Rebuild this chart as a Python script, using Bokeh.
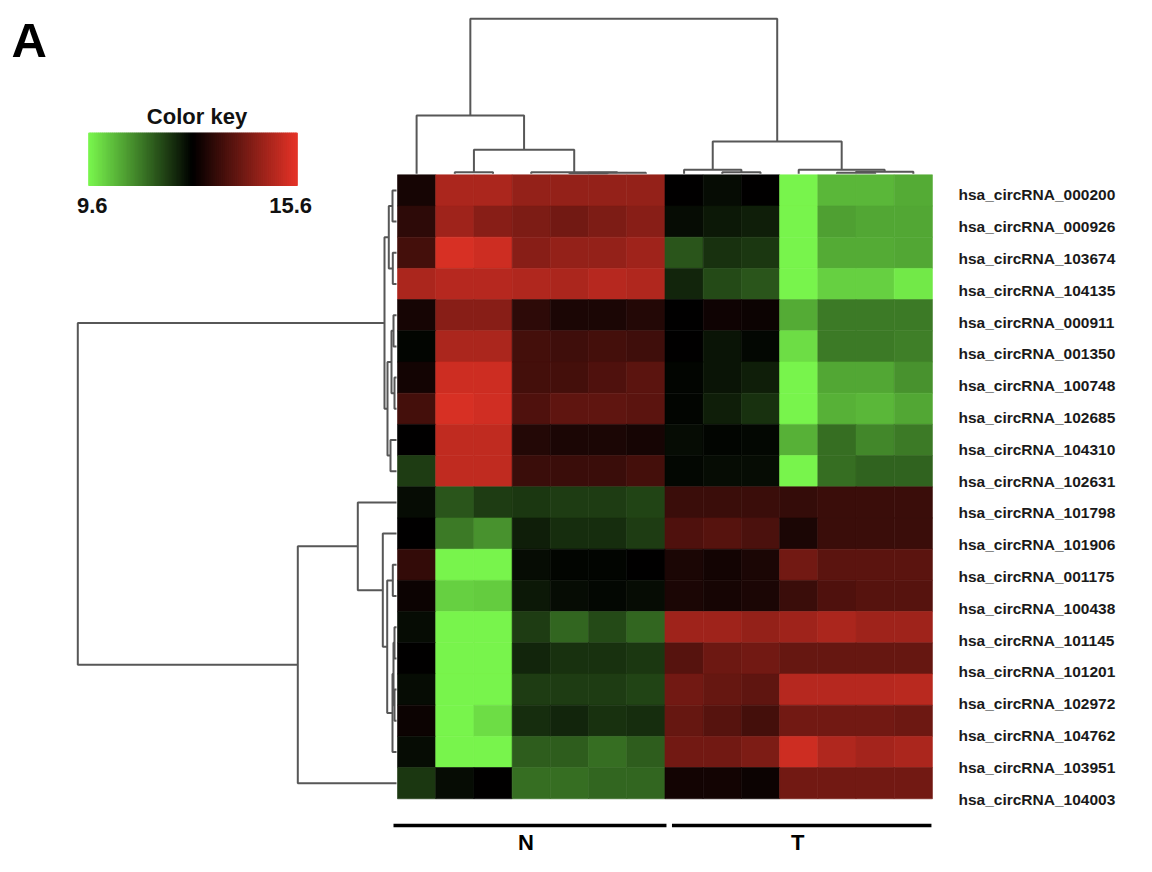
import numpy as np
from bokeh.plotting import figure
from bokeh.models import Range1d, LinearColorMapper, ColumnDataSource
from bokeh.transform import transform
from bokeh.core.properties import value
from bokeh.embed import file_html
from bokeh.resources import INLINE

# ---------------- data ----------------
GENES = [
    "hsa_circRNA_000200", "hsa_circRNA_000926", "hsa_circRNA_103674", "hsa_circRNA_104135",
    "hsa_circRNA_000911", "hsa_circRNA_001350", "hsa_circRNA_100748", "hsa_circRNA_102685",
    "hsa_circRNA_104310", "hsa_circRNA_102631", "hsa_circRNA_101798", "hsa_circRNA_101906",
    "hsa_circRNA_001175", "hsa_circRNA_100438", "hsa_circRNA_101145", "hsa_circRNA_101201",
    "hsa_circRNA_102972", "hsa_circRNA_104762", "hsa_circRNA_103951", "hsa_circRNA_104003",
]
GROUPS = ["N", "T"]
GROUP_SIZES = [7, 7]

# expression (log2) of each circRNA, normal samples
EXPR_N = [
    [12.90, 14.85, 14.85, 14.55, 14.55, 14.55, 14.55],
    [13.20, 14.70, 14.40, 14.25, 14.10, 14.25, 14.40],
    [13.50, 15.45, 15.30, 14.40, 14.55, 14.55, 14.70],
    [14.85, 15.00, 15.00, 14.94, 14.85, 15.00, 14.94],
    [12.90, 14.40, 14.40, 13.20, 12.96, 12.96, 13.05],
    [12.54, 14.85, 14.85, 13.50, 13.44, 13.50, 13.44],
    [12.84, 15.30, 15.30, 13.50, 13.50, 13.65, 13.80],
    [13.50, 15.45, 15.36, 13.65, 13.86, 13.86, 13.80],
    [12.60, 15.15, 15.15, 13.05, 12.96, 12.96, 12.90],
    [11.85, 15.15, 15.15, 13.35, 13.35, 13.35, 13.50],
    [12.45, 11.55, 11.85, 11.94, 11.85, 11.85, 11.76],
    [12.60, 11.10, 10.80, 12.24, 12.06, 12.06, 11.85],
    [13.26, 9.60, 9.60, 12.45, 12.54, 12.54, 12.60],
    [12.75, 10.05, 10.11, 12.30, 12.45, 12.51, 12.45],
    [12.45, 9.60, 9.60, 11.85, 11.34, 11.70, 11.34],
    [12.60, 9.60, 9.60, 12.15, 12.00, 12.00, 11.94],
    [12.45, 9.60, 9.60, 11.85, 11.85, 11.85, 11.76],
    [12.75, 9.60, 9.90, 12.06, 12.15, 12.00, 12.06],
    [12.45, 9.60, 9.60, 11.46, 11.46, 11.25, 11.46],
    [11.94, 12.45, 12.60, 11.25, 11.25, 11.34, 11.34],
]
# tumour samples
EXPR_T = [
    [12.60, 12.45, 12.60, 9.60, 10.35, 10.35, 10.50],
    [12.45, 12.30, 12.24, 9.60, 10.65, 10.56, 10.56],
    [11.55, 12.00, 11.94, 9.60, 10.50, 10.50, 10.56],
    [12.15, 11.70, 11.55, 9.60, 10.05, 10.05, 9.75],
    [12.60, 12.81, 12.75, 10.50, 11.10, 11.10, 11.10],
    [12.60, 12.36, 12.51, 9.90, 11.10, 11.10, 11.04],
    [12.54, 12.36, 12.24, 9.60, 10.56, 10.56, 10.80],
    [12.54, 12.24, 12.00, 9.60, 10.44, 10.35, 10.56],
    [12.45, 12.54, 12.51, 10.44, 11.25, 10.95, 11.10],
    [12.51, 12.45, 12.45, 9.60, 11.25, 11.40, 11.40],
    [13.35, 13.35, 13.35, 13.30, 13.35, 13.35, 13.35],
    [13.65, 13.74, 13.59, 12.96, 13.35, 13.35, 13.35],
    [12.96, 12.84, 12.96, 14.10, 13.80, 13.80, 13.80],
    [12.96, 12.90, 12.96, 13.35, 13.65, 13.74, 13.74],
    [14.70, 14.70, 14.55, 14.70, 14.85, 14.70, 14.70],
    [13.74, 14.04, 14.10, 13.95, 13.95, 13.95, 13.95],
    [14.10, 13.95, 13.86, 15.00, 15.00, 15.00, 15.06],
    [13.95, 13.74, 13.50, 14.10, 14.10, 14.10, 14.04],
    [14.10, 14.10, 14.25, 15.30, 14.94, 14.76, 14.85],
    [12.84, 12.84, 12.75, 14.10, 14.10, 14.10, 14.10],
]
KEY_LOW, KEY_HIGH = 9.6, 15.6

# hierarchical clustering trees: (merge height, left, right); leaves = index
COL_TREE = (15.5,
            (5.83, 0, (2.4, (0.15, 1, 2), (0.15, 3, (0.1, (0.06, 4, 5), 6)))),
            (3.23, (0.4, 7, (0.15, 8, 9)), (0.4, 10, (0.2, (0.1, 11, 12), 13))))
ROW_TREE = (31.87,
            (1.2,
             (0.77, (0.4, 0, 1), (0.37, 2, 3)),
             (0.9, (0.5, (0.3, 4, 5), (0.2, 6, 7)), (0.6, 8, 9))),
            (9.87,
             (3.87, 10, (1.37, 11, (0.93, (0.37, 12, 13),
                                     (0.4, (0.3, (0.2, 14, 15), (0.2, 16, 17)), 18)))),
             19))

# ---------------- layout / style ----------------
HEAT_X0, HEAT_Y0 = 397.0, 174.3
CELL_W, CELL_H = 38.21, 31.2
TOP_SCALE = 10.0     # px per distance unit (column dendrogram)
LEFT_SCALE = 10.0    # px per distance unit (row dendrogram)
FONT = "Liberation Sans"
DEND_COLOR = "#575757"

GREEN = np.array([120, 244, 76])
RED = np.array([226, 50, 38])
palette = []
for t in np.linspace(0, 1, 256):
    if t < 0.5:
        c = GREEN * (1 - t / 0.5)
    else:
        c = RED * ((t - 0.5) / 0.5)
    palette.append("#%02x%02x%02x" % tuple(int(round(v)) for v in c))
mapper = LinearColorMapper(palette=palette, low=KEY_LOW, high=KEY_HIGH)

p = figure(width=1136, height=856, x_range=Range1d(0, 1136), y_range=Range1d(856, 0),
           output_backend="svg", toolbar_location=None, min_border=0,
           x_axis_location=None, y_axis_location=None, outline_line_color=None,
           background_fill_color="white", border_fill_color="white")
p.xgrid.visible = False
p.ygrid.visible = False

# ---------------- heatmap ----------------
n_cols = sum(GROUP_SIZES)
xs, ys, vs = [], [], []
for i, gene in enumerate(GENES):
    row = EXPR_N[i] + EXPR_T[i]
    for j, v in enumerate(row):
        xs.append(HEAT_X0 + CELL_W * (j + 0.5))
        ys.append(HEAT_Y0 + CELL_H * (i + 0.5))
        vs.append(v)
src = ColumnDataSource(dict(x=xs, y=ys, v=vs))
p.rect(x="x", y="y", width=CELL_W, height=CELL_H, source=src,
       fill_color=transform("v", mapper), line_color=transform("v", mapper), line_width=0.6)

# ---------------- dendrograms ----------------
def dendro(tree, leaf_pos):
    pos_l, h_l = [], []
    def walk(node):
        if isinstance(node, int):
            return leaf_pos(node), 0.0
        h, a, b = node
        pa, ha = walk(a)
        pb, hb = walk(b)
        pos_l.append([pa, pa, pb, pb])
        h_l.append([ha, h, h, hb])
        return (pa + pb) / 2.0, h
    walk(tree)
    return pos_l, h_l

cp, ch = dendro(COL_TREE, lambda j: HEAT_X0 + CELL_W * (j + 0.5))
p.multi_line(xs=cp, ys=[[HEAT_Y0 - 1 - h * TOP_SCALE for h in hh] for hh in ch],
             line_color=DEND_COLOR, line_width=2)
rp, rh = dendro(ROW_TREE, lambda i: HEAT_Y0 + CELL_H * (i + 0.5))
p.multi_line(xs=[[HEAT_X0 - 1 - h * LEFT_SCALE for h in hh] for hh in rh], ys=rp,
             line_color=DEND_COLOR, line_width=2)

# ---------------- gene labels ----------------
LABEL_PITCH = 31.8
p.text(x=[HEAT_X0 + CELL_W * n_cols + 26] * len(GENES),
       y=[HEAT_Y0 + 20 + LABEL_PITCH * i for i in range(len(GENES))],
       text=GENES, text_font=value(FONT), text_font_style="bold",
       text_font_size=value("15.5px"), text_color="#1a1a1a",
       text_align="left", text_baseline="middle")

# ---------------- group bars ----------------
gx0, gx1, gmid = [], [], []
start = 0
for k, size in enumerate(GROUP_SIZES):
    a = HEAT_X0 + CELL_W * start + (-4 if k == 0 else 7)
    b = HEAT_X0 + CELL_W * (start + size) + (1.5 if k < len(GROUP_SIZES) - 1 else -1)
    gx0.append(a); gx1.append(b); gmid.append((a + b) / 2)
    start += size
p.segment(x0=gx0, y0=[825] * 2, x1=gx1, y1=[825] * 2, line_color="black", line_width=3.5)
p.text(x=[m - 4 for m in gmid], y=[842] * 2, text=GROUPS, text_font=value(FONT),
       text_font_style="bold", text_font_size=value("22px"), text_color="black",
       text_align="center", text_baseline="middle")

# ---------------- colour key ----------------
KEY_X0, KEY_X1, KEY_Y0, KEY_Y1 = 88.3, 296.7, 132.7, 185.0
kv = np.linspace(KEY_LOW, KEY_HIGH, 104)
kw = (KEY_X1 - KEY_X0) / len(kv)
ksrc = ColumnDataSource(dict(l=KEY_X0 + kw * np.arange(len(kv)),
                             r=KEY_X0 + kw * (np.arange(len(kv)) + 1),
                             v=kv))
p.quad(left="l", right="r", top=KEY_Y0, bottom=KEY_Y1, source=ksrc,
       fill_color=transform("v", mapper), line_color=transform("v", mapper), line_width=1.2)
p.text(x=[(KEY_X0 + KEY_X1) / 2 + 4], y=[116], text=["Color key"], text_font=value(FONT),
       text_font_style="bold", text_font_size=value("22px"), text_color="#111111",
       text_align="center", text_baseline="middle")
key_pos = [KEY_X0 + (v - KEY_LOW) / (KEY_HIGH - KEY_LOW) * (KEY_X1 - KEY_X0)
           for v in (KEY_LOW, KEY_HIGH)]
p.text(x=[key_pos[0] + 3.5, key_pos[1] - 6.5], y=[205, 205],
       text=["%.1f" % KEY_LOW, "%.1f" % KEY_HIGH], text_font=value(FONT),
       text_font_style="bold", text_font_size=value("22px"), text_color="#111111",
       text_align="center", text_baseline="middle")

# ---------------- panel letter ----------------
p.text(x=[11], y=[39], text=["A"], text_font=value(FONT), text_font_style="bold",
       text_font_size=value("49px"), text_color="black", text_align="left",
       text_baseline="middle")

open("out.html", "w").write(file_html(p, INLINE))
